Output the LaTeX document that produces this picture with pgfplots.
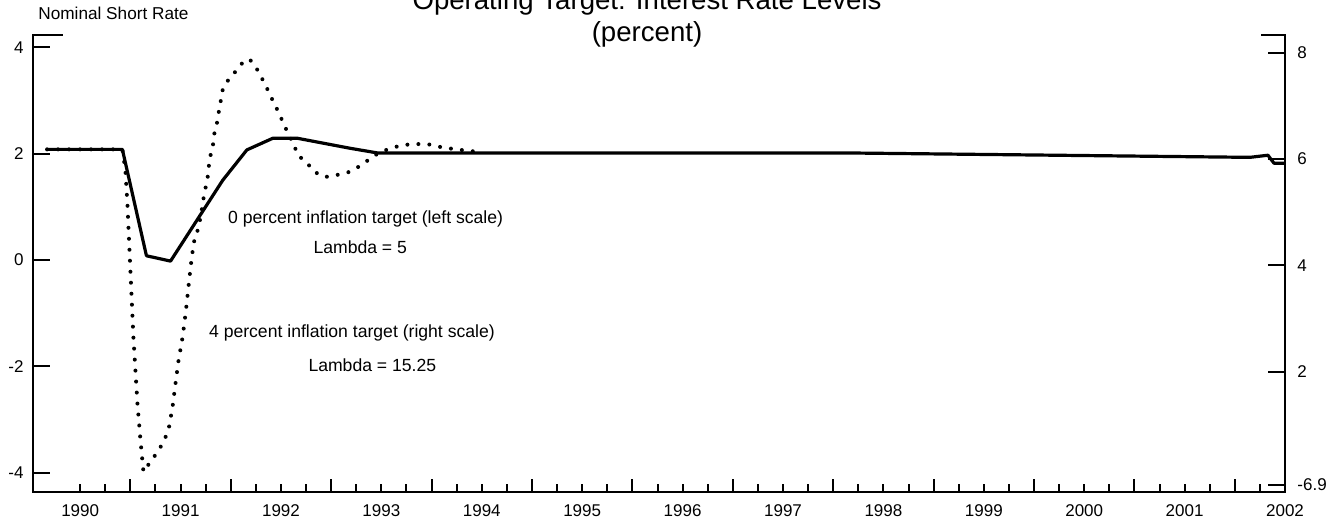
\documentclass[border=0pt]{standalone}
\usepackage{pgfplots}
\pgfplotsset{compat=1.18}
\usepackage{fontspec}
\setmainfont{Liberation Sans}
% x values are years since 1990.0
\begin{document}
\begin{tikzpicture}
\pgfplotsset{
  common/.style={
    scale only axis, width=626pt, height=228.5pt, at={(0,0)}, anchor=south west,
    xmin=0.03, xmax=12.5,
    every tick/.style={black, line width=1pt},
    ticklabel style={font=\fontsize{8.5}{10}\selectfont},
    /pgf/number format/assume math mode=true,
    clip=false,
  },
  nolines/.style={axis line style={draw=none}, tick align=inside},
}
% x axis with quarterly ticks and year labels
\begin{axis}[common,
  ymin=-4.36, ymax=4.23,
  axis x line=bottom, axis y line=none, nolines,
  xtick={0.5,1.5,...,12.5},
  xticklabels={1990,1991,1992,1993,1994,1995,1996,1997,1998,1999,2000,2001,2002},
  minor x tick num=3,
  major tick length=4pt, minor tick length=4pt,
  xticklabel style={inner sep=0pt, anchor=north, yshift=-6pt},
]
\end{axis}
% taller year-boundary ticks
\begin{axis}[common,
  ymin=-4.36, ymax=4.23,
  axis x line=bottom, axis y line=none, nolines,
  xtick={1,2,...,12},
  xticklabels={},
  major tick length=6.5pt,
]
\end{axis}
% left scale
\begin{axis}[common,
  ymin=-4.36, ymax=4.23,
  axis x line=none, axis y line=left, nolines,
  major tick length=8.5pt,
  ytick={-4,-2,0,2,4},
  yticklabel style={inner sep=0pt, anchor=east, xshift=-4.5pt},
]
\addplot[black, line width=1.6pt, line join=round] coordinates {
(0.17,2.08) (0.92,2.08) (1.16,0.08) (1.40,-0.02) (1.92,1.50)
(2.16,2.07) (2.42,2.29) (2.66,2.29) (3.19,2.10) (3.47,2.01)
(8.27,2.01) (12.15,1.93) (12.33,1.97) (12.39,1.82) (12.5,1.82)
};
\node[anchor=base west, inner sep=0pt, font=\fontsize{8.8}{10}\selectfont] at (axis cs:1.97,0.69) {0 percent inflation target (left scale)};
\node[anchor=base west, inner sep=0pt, font=\fontsize{8.8}{10}\selectfont] at (axis cs:2.82,0.13) {Lambda = 5};
\node[anchor=base west, inner sep=0pt, font=\fontsize{8.8}{10}\selectfont] at (axis cs:1.78,-1.45) {4 percent inflation target (right scale)};
\node[anchor=base west, inner sep=0pt, font=\fontsize{8.8}{10}\selectfont] at (axis cs:2.77,-2.10) {Lambda = 15.25};
\end{axis}
% right scale
\begin{axis}[common,
  ymin=-0.26, ymax=8.33,
  axis x line=none, axis y line=right, nolines,
  major tick length=8.5pt,
  ytick={-0.13,2,4,6,8},
  yticklabels={-6.9,2,4,6,8},
  yticklabel style={inner sep=0pt, anchor=west, xshift=6pt},
]
\addplot[black, line width=2pt, line cap=round, dash pattern=on 0pt off 5.5pt] coordinates {
(0.17,6.18) (0.92,6.18) (0.95,5.79) (0.97,5.17) (1.00,3.91)
(1.03,2.65) (1.07,1.41) (1.10,0.72) (1.13,0.12) (1.20,0.31)
(1.27,0.49) (1.33,0.68) (1.38,0.91) (1.42,1.34) (1.45,1.79)
(1.48,2.22) (1.52,2.65) (1.55,3.10) (1.60,3.97) (1.63,4.42)
(1.67,4.66) (1.70,4.91) (1.73,5.28) (1.77,5.66) (1.79,6.02)
(1.82,6.20) (1.83,6.43) (1.86,6.65) (1.88,6.88) (1.90,7.09)
(1.92,7.31) (1.98,7.50) (2.06,7.67) (2.13,7.84) (2.19,7.87)
(2.26,7.69) (2.32,7.48) (2.37,7.29) (2.42,7.09) (2.47,6.90)
(2.52,6.69) (2.57,6.48) (2.62,6.30) (2.67,6.07) (2.76,5.92)
(2.84,5.75) (2.94,5.66) (3.06,5.70) (3.17,5.75) (3.27,5.85)
(3.37,5.98) (3.47,6.11) (3.59,6.20) (3.71,6.26) (3.82,6.28)
(3.96,6.28) (4.04,6.24) (4.17,6.20) (4.29,6.17) (4.48,6.13)
};
\end{axis}
\draw[line width=1.4pt, line join=miter]
  (15pt,228.5pt) -- (0pt,228.5pt) -- (0pt,0pt) -- (626pt,0pt) -- (626pt,228.5pt) -- (614pt,228.5pt);
\node[anchor=base, inner sep=0pt, font=\fontsize{13.8}{15}\selectfont] at (307pt,241pt) {Operating Target: Interest Rate Levels};
\node[anchor=base, inner sep=0pt, font=\fontsize{13.8}{15}\selectfont] at (307pt,225pt) {(percent)};
\node[anchor=base west, inner sep=0pt, font=\fontsize{8.6}{10}\selectfont] at (2.5pt,236pt) {Nominal Short Rate};
\pgfresetboundingbox
\useasboundingbox (-16.5pt,-18pt) rectangle (652pt,246pt);
\end{tikzpicture}
\end{document}
